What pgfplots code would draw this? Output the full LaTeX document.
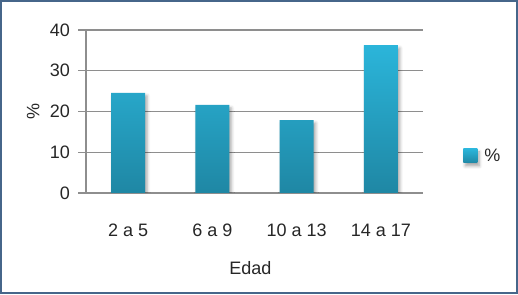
\documentclass[border=0pt]{standalone}
\usepackage{fontspec}
\setmainfont{Liberation Sans}
\usepackage{pgfplots}
\pgfplotsset{compat=1.18}
\usetikzlibrary{shadows.blur}
\definecolor{barTop}{HTML}{2BB5DA}
\definecolor{barBot}{HTML}{1F87A4}
\definecolor{gridc}{HTML}{8E8E8E}
\definecolor{framec}{HTML}{46668A}
\newcommand\cf{\fontsize{18}{21}\selectfont}
\begin{document}
\begin{tikzpicture}
\path[use as bounding box] (0,0) rectangle (518pt,294pt);
\begin{axis}[
  at={(86pt,101pt)}, anchor=south west,
  scale only axis, width=337pt, height=163pt,
  xmin=-0.5, xmax=3.5, ymin=0, ymax=40,
  ytick={0,10,20,30,40},
  xtick={0,1,2,3}, xticklabels={2 a 5, 6 a 9, 10 a 13, 14 a 17},
  axis x line*=bottom, axis y line*=left,
  ymajorgrids, grid style={gridc, line width=1.4pt},
  axis line style={gridc, line width=1.4pt},
  major tick length=8pt,
  tick align=outside,
  xtick style={draw=none},
  ytick style={gridc, line width=1.4pt},
  /pgf/number format/assume math mode=true,
  tick label style={font=\cf, text=black!85},
  xticklabel style={anchor=base, yshift=-36pt, inner sep=0pt},
  yticklabel style={anchor=east, inner sep=0pt, xshift=-8pt},
  every axis x label/.style={at={(axis description cs:0.488,-0.5)}, anchor=base, font=\cf, text=black!85},
  every axis y label/.style={at={(axis description cs:-0.157,0.5)}, rotate=90, anchor=center, font=\cf, text=black!85},
  xlabel={Edad}, ylabel={\%},
  legend style={at={(axis description cs:1.119,0.227)}, anchor=west, draw=none, fill=none, font=\cf, text=black!85, inner sep=0pt},
]
\addplot[ybar, bar width=34pt, bar shift=0pt, draw=none, top color=barTop, bottom color=barBot,
  blur shadow={shadow xshift=2pt, shadow yshift=-3pt, shadow blur radius=3pt, shadow opacity=35},
  legend image code/.code={\shade[top color=barTop, bottom color=barBot] (0pt,-7pt) rectangle (14pt,7pt);}]
  coordinates {(0,24.6) (1,21.6) (2,17.9) (3,36.3)};
\addlegendentry{\hspace{5pt}\%}
\end{axis}
\draw[framec, line width=2pt] (1pt,1pt) rectangle (517pt,293pt);
\end{tikzpicture}
\end{document}
